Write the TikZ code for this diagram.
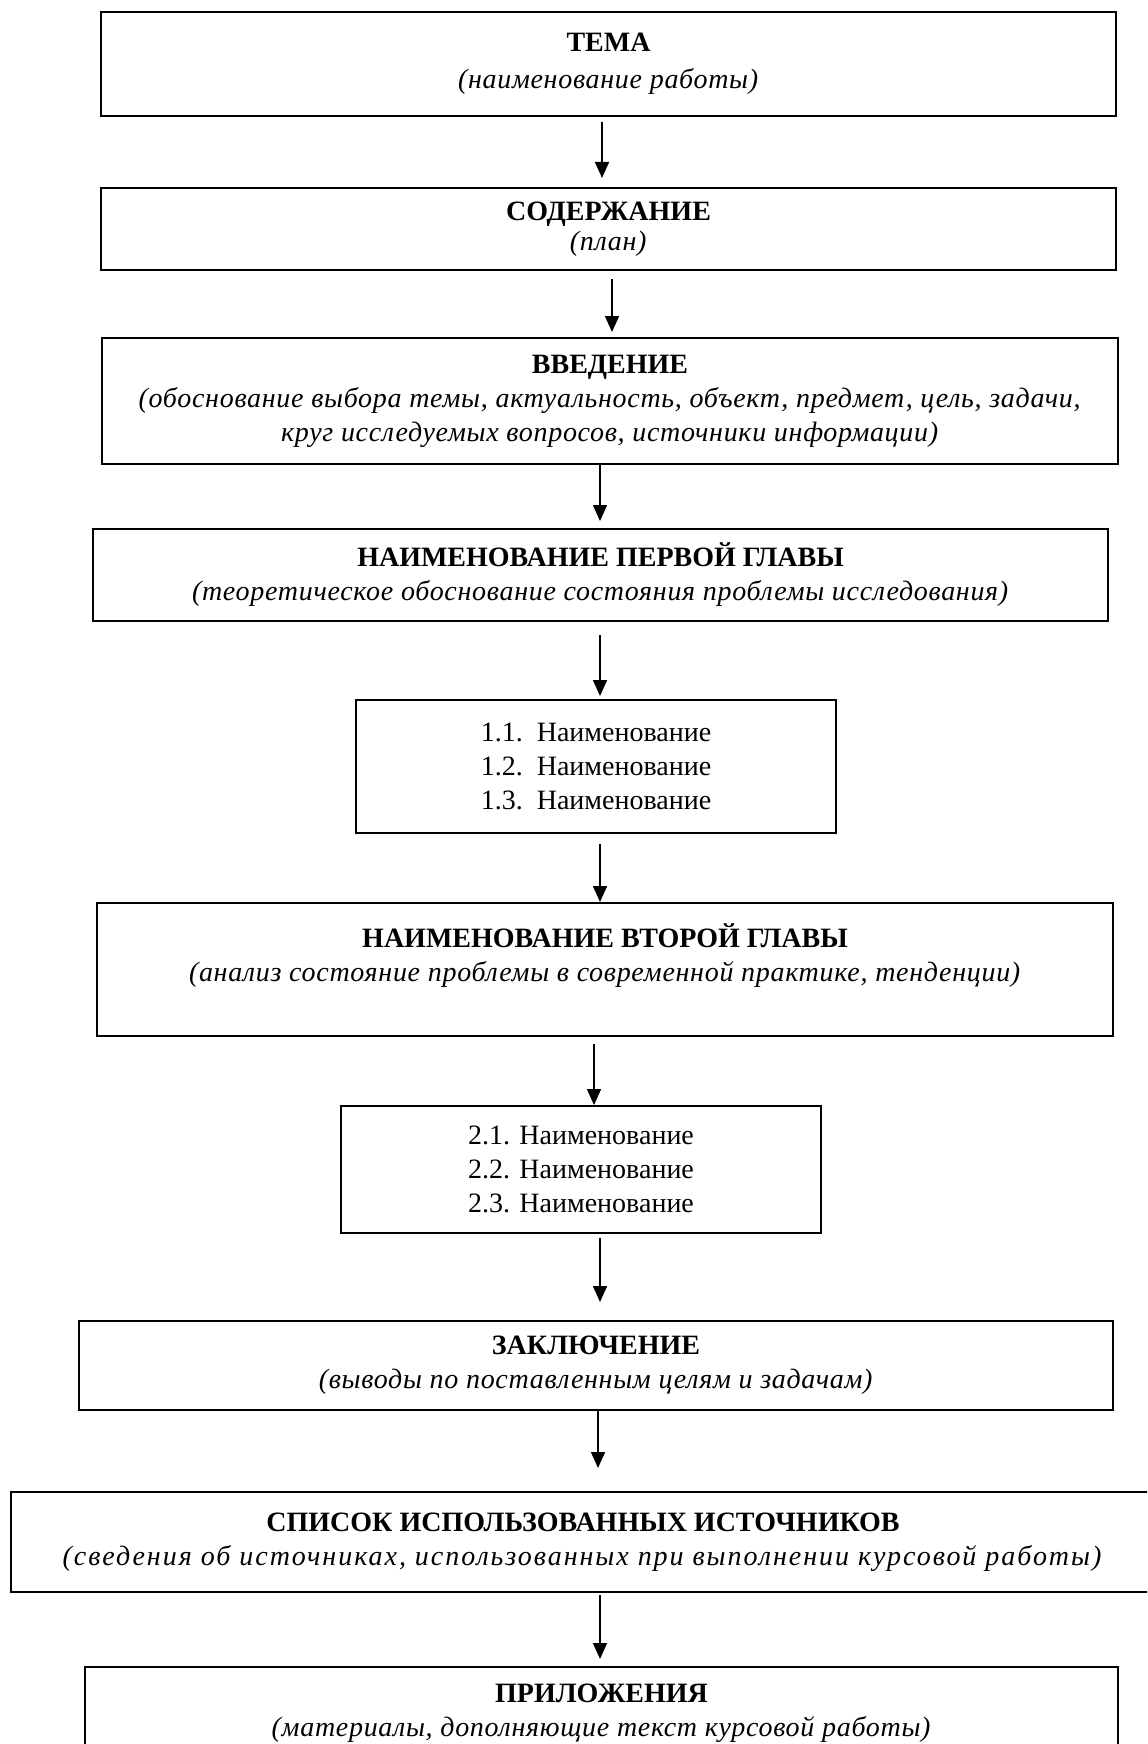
\documentclass[tikz,border=0pt]{standalone}
\usepackage{fontspec}
\setmainfont{Liberation Serif}
\usetikzlibrary{arrows.meta}

\newcommand{\remark}[2][2.5]{\textit{\addfontfeatures{LetterSpace=#1}#2}}

\tikzset{
  block/.style={draw=black, line width=1pt, align=center, inner sep=0pt, font=\fontsize{14}{17}\selectfont},
  flow/.style={draw=black, line width=0.75pt, -{Triangle[length=8pt,width=7pt]}}
}

\begin{document}
\begin{tikzpicture}[x=0.5pt, y=-0.5pt]
\clip (0,0) rectangle (1147,1744);

\node[block, minimum width=507.5pt, minimum height=52pt] (tema) at (608.5,64) {\textbf{ТЕМА}\\[1.5pt]\remark{(наименование работы)}};

\node[block, minimum width=507.5pt, minimum height=41pt] (sod) at (608.5,229) {\textbf{СОДЕРЖАНИЕ}\\[-2pt]\remark{(план)}};

\node[block, minimum width=508pt, minimum height=63pt] (vved) at (610,401) {\textbf{ВВЕДЕНИЕ}\\\remark{(обоснование выбора темы, актуальность, объект, предмет, цель, задачи,}\\\remark{круг исследуемых вопросов, источники информации)}};

\node[block, minimum width=507.5pt, minimum height=46pt] (glava1) at (600.5,575) {\textbf{НАИМЕНОВАНИЕ ПЕРВОЙ ГЛАВЫ}\\\remark{(теоретическое обоснование состояния проблемы исследования)}};

\node[block, minimum width=240pt, minimum height=66.5pt] (punkt1) at (596,766.5) {1.1.\enspace Наименование\\1.2.\enspace Наименование\\1.3.\enspace Наименование};

\node[block, minimum width=508pt, minimum height=66.5pt] (glava2) at (605,969.5) {\textbf{НАИМЕНОВАНИЕ ВТОРОЙ ГЛАВЫ}\\\remark{(анализ состояние проблемы в современной практике, тенденции)}\\\mbox{}};

\node[block, minimum width=240pt, minimum height=63.5pt] (punkt2) at (581,1169.5) {2.1. Наименование\\2.2. Наименование\\2.3. Наименование};

\node[block, minimum width=517pt, minimum height=44.5pt] (zakl) at (596,1365.5) {\textbf{ЗАКЛЮЧЕНИЕ}\\\remark{(выводы по поставленным целям и задачам)}};

\node[block, minimum width=572pt, minimum height=50pt] (spisok) at (583,1542) {\textbf{СПИСОК ИСПОЛЬЗОВАННЫХ ИСТОЧНИКОВ}\\\remark[7]{(сведения об источниках, использованных при выполнении курсовой работы)}};

\node[block, minimum width=516.5pt, minimum height=46.5pt] (prilo) at (601.5,1713.5) {\textbf{ПРИЛОЖЕНИЯ}\\\remark{(материалы, дополняющие текст курсовой работы)}};

\draw[flow, shorten <=2.5pt, shorten >=4.5pt] ([xshift=-3.25pt]tema.south) -- ([xshift=-3.25pt]sod.north);

\draw[flow, shorten <=4pt, shorten >=2.5pt] ([xshift=1.75pt]sod.south) -- ([xshift=1pt]vved.north);

\draw[flow, shorten >=3.5pt] ([xshift=-5pt]vved.south) -- ([xshift=-0.25pt]glava1.north);

\draw[flow, shorten <=6.5pt, shorten >=1.5pt] ([xshift=-0.25pt]glava1.south) -- ([xshift=2pt]punkt1.north);

\draw[flow, shorten <=5pt] ([xshift=2pt]punkt1.south) -- ([xshift=-2.5pt]glava2.north);

\draw[flow, shorten <=3.5pt] ([xshift=-5.5pt]glava2.south) -- ([xshift=6.5pt]punkt2.north);

\draw[flow, shorten <=2pt, shorten >=9pt] ([xshift=9.5pt]punkt2.south) -- ([xshift=2pt]zakl.north);

\draw[flow, shorten >=11.5pt] ([xshift=1pt]zakl.south) -- ([xshift=7.5pt]spisok.north);

\draw[flow, shorten <=1pt, shorten >=3.5pt] ([xshift=8.5pt]spisok.south) -- ([xshift=-0.75pt]prilo.north);

\end{tikzpicture}
\end{document}
